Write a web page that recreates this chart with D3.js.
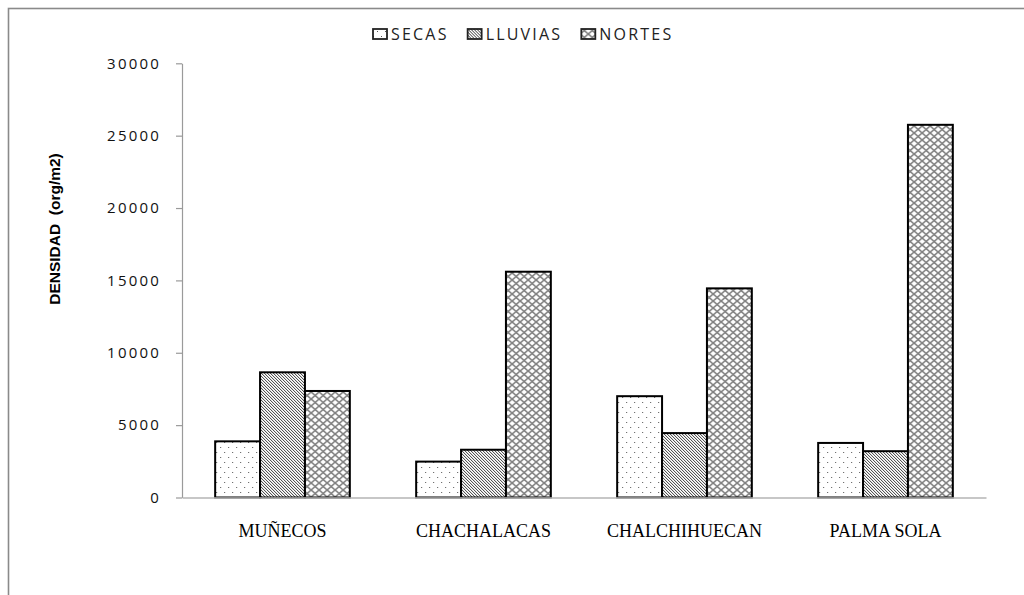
<!DOCTYPE html>
<html>
<head>
<meta charset="utf-8">
<script src="https://cdn.jsdelivr.net/npm/d3@7"></script>
<style>
  body { margin: 0; background: #fff; }
  svg { display: block; }
</style>
</head>
<body>
<svg id="chart" width="1024" height="595"></svg>
<script>
// Sampling sites and seasons
const sites = ["MUÑECOS", "CHACHALACAS", "CHALCHIHUECAN", "PALMA SOLA"];
const seasons = ["SECAS", "LLUVIAS", "NORTES"];

// Density (org/m2) per site, one array per season
const secas   = [3880, 2480, 7000, 3770];
const lluvias = [8650, 3300, 4450, 3200];
const nortes  = [7360, 15600, 14450, 25750];

// Y-axis ticks
const yTicks = [0, 5000, 10000, 15000, 20000, 25000, 30000];

const seriesValues = { SECAS: secas, LLUVIAS: lluvias, NORTES: nortes };

const svg = d3.select("#chart");
const defs = svg.append("defs");

// Fill patterns: dots, diagonal hatch, cross-hatch
const pDots = defs.append("pattern").attr("id", "pat-secas")
  .attr("patternUnits", "userSpaceOnUse").attr("width", 8).attr("height", 10);
pDots.append("rect").attr("width", 8).attr("height", 10).attr("fill", "#fff");
pDots.append("rect").attr("x", 1).attr("y", 2).attr("width", 1).attr("height", 1).attr("fill", "#555");
pDots.append("rect").attr("x", 5).attr("y", 7).attr("width", 1).attr("height", 1).attr("fill", "#555");

const pDiag = defs.append("pattern").attr("id", "pat-lluvias")
  .attr("patternUnits", "userSpaceOnUse").attr("width", 3).attr("height", 3);
pDiag.append("rect").attr("width", 3).attr("height", 3).attr("fill", "#fff");
pDiag.append("path").attr("d", "M-1,-1 L4,4 M-1,2 L1,4 M2,-1 L4,1")
  .attr("stroke", "#333").attr("stroke-width", 1);

const pCross = defs.append("pattern").attr("id", "pat-nortes")
  .attr("patternUnits", "userSpaceOnUse").attr("width", 8).attr("height", 7);
pCross.append("rect").attr("width", 8).attr("height", 7).attr("fill", "#fff");
pCross.append("path").attr("d", "M0,0 L8,7 M8,0 L0,7")
  .attr("stroke", "#808080").attr("stroke-width", 1.6);

const fills = { SECAS: "url(#pat-secas)", LLUVIAS: "url(#pat-lluvias)", NORTES: "url(#pat-nortes)" };

// Outer frame of the chart area
svg.append("rect")
  .attr("x", 8.5).attr("y", 8.5).attr("width", 1100).attr("height", 700)
  .attr("fill", "none").attr("stroke", "#8a8a8a").attr("stroke-width", 1.6);

// Scales
const plot = { left: 182, right: 986, top: 63.3, bottom: 497.5 };
const x0 = d3.scaleBand().domain(sites).range([plot.left, plot.right])
  .paddingInner(0.33).paddingOuter(0.165);
const x1 = d3.scaleBand().domain(seasons).range([0, x0.bandwidth()]);
const y = d3.scaleLinear().domain([0, 30000]).range([plot.bottom, plot.top]);

// Y axis
const yAxis = svg.append("g")
  .attr("transform", `translate(${plot.left},0)`)
  .call(d3.axisLeft(y).tickValues(yTicks).tickFormat(d3.format("d"))
    .tickSize(6).tickSizeOuter(0).tickPadding(15));
yAxis.select(".domain").attr("stroke", "#9a9a9a").attr("stroke-width", 1.2);
yAxis.selectAll(".tick line").attr("stroke", "#9a9a9a").attr("stroke-width", 1.2);
yAxis.selectAll(".tick text")
  .attr("font-family", "'Open Sans', sans-serif").attr("font-size", 15)
  .attr("letter-spacing", "2.2px").attr("fill", "#111");

// Bars
const groups = svg.append("g").selectAll("g")
  .data(sites).join("g")
  .attr("transform", d => `translate(${x0(d)},0)`);

groups.selectAll("rect")
  .data((site, i) => seasons.map(s => ({ season: s, value: seriesValues[s][i] })))
  .join("rect")
  .attr("x", d => x1(d.season))
  .attr("y", d => y(d.value))
  .attr("width", x1.bandwidth())
  .attr("height", d => y(0) - y(d.value))
  .attr("fill", d => fills[d.season])
  .attr("stroke", "#000").attr("stroke-width", 2);

// X axis baseline and category labels
const xAxis = svg.append("g")
  .attr("transform", `translate(0,${plot.bottom})`)
  .call(d3.axisBottom(x0).tickSize(0).tickSizeOuter(0).tickPadding(27));
xAxis.select(".domain").attr("stroke", "#b5b5b5").attr("stroke-width", 1.5);
xAxis.selectAll(".tick text")
  .attr("font-family", "'Liberation Serif', 'Times New Roman', serif")
  .attr("font-size", 18).attr("fill", "#000");

// Y-axis title
svg.append("text")
  .attr("transform", "translate(60,229) rotate(-90)")
  .attr("text-anchor", "middle")
  .attr("font-family", "'Liberation Sans', Arial, sans-serif")
  .attr("font-weight", "bold").attr("font-size", 15.5).attr("fill", "#000")
  .attr("xml:space", "preserve")
  .text("DENSIDAD  (org/m2)");

// Legend
const legend = svg.append("g").attr("transform", "translate(372,34)");
let lx = 0;
seasons.forEach(s => {
  const item = legend.append("g").attr("transform", `translate(${lx},0)`);
  item.append("rect")
    .attr("x", 1).attr("y", -5).attr("width", 14).attr("height", 10)
    .attr("fill", fills[s]).attr("stroke", "#222").attr("stroke-width", 1.8);
  const t = item.append("text")
    .attr("x", 19).attr("y", 5.5)
    .attr("font-family", "'Open Sans', sans-serif").attr("font-size", 16)
    .attr("letter-spacing", "2.2px").attr("fill", "#222")
    .text(s);
  lx += 19 + t.node().getComputedTextLength() + 18;
});
</script>
</body>
</html>
